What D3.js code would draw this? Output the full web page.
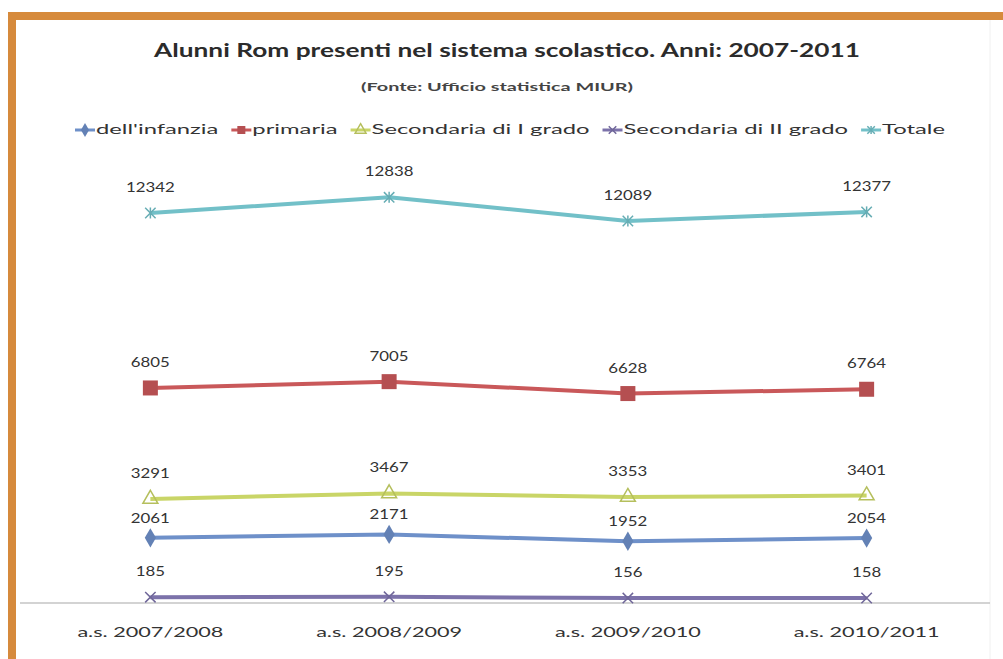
<!DOCTYPE html>
<html>
<head>
<meta charset="utf-8">
<script src="https://cdn.jsdelivr.net/npm/d3@7"></script>
<style>
  html, body { margin: 0; padding: 0; background: #fff; overflow: hidden; }
  svg { display: block; font-family: Lato, "Open Sans", sans-serif; }
</style>
</head>
<body>
<div id="chart"></div>
<script>
// data
var categories = ["a.s. 2007/2008", "a.s. 2008/2009", "a.s. 2009/2010", "a.s. 2010/2011"];
var seriesNames = ["dell'infanzia", "primaria", "Secondaria di I grado", "Secondaria di II grado", "Totale"];
var infanzia = [2061, 2171, 1952, 2054];
var primaria = [6805, 7005, 6628, 6764];
var secondariaI = [3291, 3467, 3353, 3401];
var secondariaII = [185, 195, 156, 158];
var totale = [12342, 12838, 12089, 12377];

var seriesValues = [infanzia, primaria, secondariaI, secondariaII, totale];
var colors = ["#6e90c9", "#c9585a", "#c9d567", "#7c72aa", "#72c0c8"];
var markers = ["diamond", "square", "triangle", "cross", "star"];

var W = 1003, H = 659;

var svg = d3.select("#chart").append("svg")
  .attr("width", W)
  .attr("height", H);

// orange frame (only top and left show)
svg.append("rect").attr("x", 0).attr("y", 0).attr("width", W).attr("height", H).attr("fill", "#fff");
svg.append("rect").attr("x", 8).attr("y", 12).attr("width", W - 8).attr("height", 8).attr("fill", "#d68a3c");
svg.append("rect").attr("x", 8).attr("y", 12).attr("width", 8).attr("height", H - 12).attr("fill", "#d68a3c");
// faint chart border on the right
svg.append("line").attr("x1", 990).attr("x2", 990).attr("y1", 20).attr("y2", H)
  .attr("stroke", "#f0f0f0").attr("stroke-width", 1);

// squeeze text into a given width (the picture is stretched sideways)
function fitTo(sel, width) {
  sel.attr("textLength", width).attr("lengthAdjust", "spacingAndGlyphs");
}
function stretch(sel, k) {
  sel.each(function () {
    var len = this.getComputedTextLength();
    d3.select(this).attr("textLength", len * k).attr("lengthAdjust", "spacingAndGlyphs");
  });
}

var x = d3.scaleBand()
  .domain(categories)
  .range([31, 986]);

var y = d3.scaleLinear()
  .domain([0, 14000])
  .range([603, 160.6]);

// title
svg.append("text")
  .attr("x", 507).attr("y", 57)
  .attr("text-anchor", "middle")
  .attr("font-size", 18).attr("font-weight", "bold")
  .attr("fill", "#2b2b2b")
  .text("Alunni Rom presenti nel sistema scolastico. Anni: 2007-2011")
  .call(fitTo, 706);

svg.append("text")
  .attr("x", 497).attr("y", 91)
  .attr("text-anchor", "middle")
  .attr("font-size", 11).attr("font-weight", "bold")
  .attr("fill", "#444")
  .text("(Fonte: Ufficio statistica MIUR)")
  .call(fitTo, 272);

// axis line
svg.append("line")
  .attr("x1", 20).attr("x2", 990)
  .attr("y1", y(0)).attr("y2", y(0))
  .attr("stroke", "#c4c4c4").attr("stroke-width", 1.5);

var xAxis = svg.append("g")
  .attr("transform", "translate(0," + y(0) + ")")
  .call(d3.axisBottom(x).tickSize(0).tickPadding(24));
xAxis.select(".domain").remove();
xAxis.selectAll("text")
  .attr("font-size", 14)
  .attr("font-family", "Lato, sans-serif")
  .attr("fill", "#333")
  .call(fitTo, 146);

function drawMarker(g, type, color, size) {
  if (type === "square") {
    g.append("rect").attr("x", -size / 2).attr("y", -size / 2)
      .attr("width", size).attr("height", size).attr("fill", color);
  } else if (type === "diamond") {
    g.append("path").attr("d", d3.symbol(d3.symbolDiamond, size * size * 0.9)()).attr("fill", color);
  } else if (type === "triangle") {
    g.append("path").attr("d", d3.symbol(d3.symbolTriangle, size * size * 0.8)())
      .attr("fill", "none").attr("stroke", color).attr("stroke-width", 1.5);
  } else if (type === "cross") {
    g.append("path").attr("d", d3.symbol(d3.symbolX, size * size * 0.6)())
      .attr("fill", "none").attr("stroke", color).attr("stroke-width", 1.5);
  } else {
    g.append("path").attr("d", d3.symbol(d3.symbolX, size * size * 0.6)())
      .attr("fill", "none").attr("stroke", color).attr("stroke-width", 1.5);
    g.append("line").attr("x1", 0).attr("x2", 0).attr("y1", -size / 2).attr("y2", size / 2)
      .attr("stroke", color).attr("stroke-width", 1.5);
  }
}

var line = d3.line()
  .x(function (d, i) { return x(categories[i]) + x.bandwidth() / 2; })
  .y(function (d) { return y(d); });

var markerSize = [11, 15, 11, 11, 11];
var labelOffset = [15, 21, 21, 21, 21]; // infanzia labels sit closer to their line

seriesValues.forEach(function (vals, s) {
  var g = svg.append("g");
  g.append("path")
    .datum(vals)
    .attr("d", line)
    .attr("fill", "none")
    .attr("stroke", colors[s])
    .attr("stroke-width", 4)
    .attr("stroke-linejoin", "round");
  vals.forEach(function (v, i) {
    var cx = x(categories[i]) + x.bandwidth() / 2;
    var m = g.append("g").attr("transform", "translate(" + cx + "," + y(v) + ")");
    drawMarker(m, markers[s], d3.color(colors[s]).darker(0.3), markerSize[s]);
    g.append("text")
      .attr("x", cx).attr("y", y(v) - labelOffset[s])
      .attr("text-anchor", "middle")
      .attr("font-size", 14)
      .attr("fill", "#333")
      .text(v)
      .call(stretch, 1.2);
  });
});

// legend, spread over the same width as in the picture
var legendLeft = 75, legendRight = 945, symW = 20, itemGap = 13;
var legend = svg.append("g").attr("transform", "translate(0,134)");
var texts = [];
seriesNames.forEach(function (name, s) {
  var item = legend.append("g");
  item.append("line").attr("x1", 0).attr("x2", symW).attr("y1", -4).attr("y2", -4)
    .attr("stroke", colors[s]).attr("stroke-width", 3);
  var m = item.append("g").attr("transform", "translate(" + symW / 2 + ",-4)");
  drawMarker(m, markers[s], d3.color(colors[s]).darker(0.3), 8);
  var t = item.append("text")
    .attr("x", symW + 1).attr("y", 0)
    .attr("font-size", 13)
    .attr("fill", "#333")
    .text(name);
  texts.push({ item: item, t: t, w: t.node().getComputedTextLength() });
});
var natural = d3.sum(texts, function (d) { return d.w; });
var k = (legendRight - legendLeft - seriesNames.length * (symW + 1) - (seriesNames.length - 1) * itemGap) / natural;
var lx = legendLeft;
texts.forEach(function (d) {
  d.item.attr("transform", "translate(" + lx + ",0)");
  d.t.call(fitTo, d.w * k);
  lx += symW + 1 + d.w * k + itemGap;
});
</script>
</body>
</html>
